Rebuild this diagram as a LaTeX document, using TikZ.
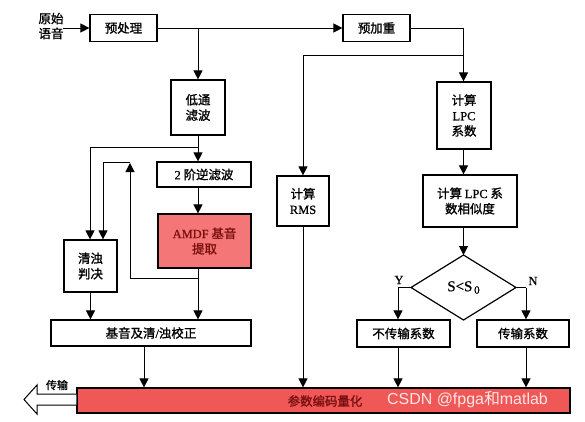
\documentclass[tikz,border=0pt]{standalone}
\usepackage{fontspec}
\setmainfont{Noto Sans CJK SC}[FakeBold=1.2]
\newfontfamily\lat{Liberation Serif}[FakeBold=0.8]
\newfontfamily\wm{Liberation Sans}
\newfontfamily\wmcjk{Noto Sans CJK SC}
\usetikzlibrary{arrows.meta}
\definecolor{pinkfill}{RGB}{245,118,118}
\definecolor{barfill}{RGB}{240,88,88}
\definecolor{darkred}{RGB}{120,15,15}
\tikzset{
  box/.style={draw=black, line width=1.2bp, fill=white, align=center, inner sep=0pt,
              font=\fontsize{12.5}{15.5}\selectfont},
  redbox/.style={box, fill=pinkfill, text=darkred},
  arr/.style={line width=1bp, -{Triangle[length=9bp,width=9bp]}},
  ln/.style={line width=1bp},
  lbl/.style={font=\fontsize{12.5}{15}\selectfont, inner sep=0pt, align=center}
}
\begin{document}
\begin{tikzpicture}[x=1bp,y=-1bp]
\useasboundingbox (0,0) rectangle (585,421);
% nodes
\node[lbl] (src) at (51,26) {原始\\语音};
\node[box, minimum width=67bp, minimum height=27bp] (pre) at (123.5,28) {预处理};
\node[box, minimum width=67bp, minimum height=27bp] (yjz) at (376.5,28) {预加重};
\node[box, minimum width=54bp, minimum height=55bp] (dt) at (198,107.5) {低通\\滤波};
\node[box, minimum width=94bp, minimum height=25bp] (inv) at (204,174.5) {{\lat 2} 阶逆滤波};
\node[redbox, minimum width=93bp, minimum height=54bp] (amdf) at (204.5,241) {{\lat AMDF} 基音\\提取};
\node[box, minimum width=53bp, minimum height=52bp] (qz) at (90.5,266) {清浊\\判决};
\node[box, minimum width=200bp, minimum height=26bp] (jy) at (151,333) {基音及清{\lat /}浊校正};
\node[box, minimum width=52bp, minimum height=50bp] (rms) at (303,201) {计算\\{\lat RMS}};
\node[box, minimum width=54bp, minimum height=67bp] (lpc) at (464,115.5) {计算\\{\lat LPC}\\系数};
\node[box, minimum width=94bp, minimum height=52bp] (sim) at (470,201) {计算 {\lat LPC} 系\\数相似度};
\draw[line width=1.2bp] (463.5,255) coordinate (dN) -- (516,287.5) coordinate (dE)
   -- (463.5,320) coordinate (dS) -- (411,287.5) coordinate (dW) -- cycle;
\node[lbl] (cond) at (463.5,287.5) {\lat\fontsize{15}{17}\selectfont S<S\raisebox{-0.35ex}{\fontsize{11}{12}\selectfont\,0}};
\node[box, minimum width=93bp, minimum height=27bp] (nt) at (403.5,333.5) {不传输系数};
\node[box, minimum width=92bp, minimum height=27bp] (tr) at (523,333.5) {传输系数};
\node[box, fill=barfill, text=darkred, minimum width=493bp, minimum height=25bp] (bar) at (323.5,400.5) {};
\node[lbl, text=darkred] (barlbl) at (325,401) {参数编码量化};
\node[font=\wm\fontsize{16}{18}\selectfont, text=white, opacity=0.85, inner sep=0pt, anchor=west] (wmk) at (387,400) {CSDN @fpga{\wmcjk 和}matlab};
\node[lbl] (ylbl) at (399,280) {\lat Y};
\node[lbl] (nlbl) at (533,281) {\lat N};
\node[lbl, font=\fontsize{11}{12}\selectfont] (out) at (57,385) {传输};
% hollow output arrow
\draw[line width=1bp, fill=white] (bar.west |- 0,394) coordinate (sh1) -- (37,394) -- (37,385) -- (24,399.5) coordinate (tip)
   -- (37,414) -- (37,405) -- (bar.west |- 0,405);
% connectors
\coordinate (srcR) at (63,28);
\draw[arr] (srcR) -- (pre.west);
\draw[arr] (pre.east) -- (yjz.west);
\coordinate (s1) at (198,28);
\draw[arr] (s1) -- (dt.north);
\coordinate (b1) at (198,147);
\draw[arr] (dt.south) -- (dt.south |- inv.north);
\draw[ln] (b1) -- (90,147) coordinate (b1l);
\draw[arr] (b1l) -- (b1l |- qz.north);
\draw[arr] (dt.south |- inv.south) -- (dt.south |- amdf.north);
\coordinate (a1) at (198,278);
\draw[arr] (dt.south |- amdf.south) -- (dt.south |- jy.north);
\draw[ln] (a1) -- (130,278) coordinate (a2);
\draw[arr] (a2) -- (130,163) coordinate (a3);
\draw[ln] (130,162) -- (103,162) coordinate (a4);
\draw[arr] (a4) -- (a4 |- qz.north);
\draw[arr] (qz.south) -- (qz.south |- jy.north);
\draw[arr] (jy.south -| 144,0) -- (bar.north -| 144,0);
% right side
\draw[ln] (yjz.east) -- (463.5,28) coordinate (r1);
\draw[arr] (r1) -- (r1 |- lpc.north);
\coordinate (r2) at (463.5,55);
\draw[ln] (r2) -- (303,55) coordinate (r3);
\draw[arr] (r3) -- (rms.north);
\draw[arr] (rms.south) -- (rms.south |- bar.north);
\draw[arr] (r1 |- lpc.south) -- (r1 |- sim.north);
\draw[arr] (dN |- sim.south) -- (dN);
\draw[ln] (dW) -- (398,287.5) coordinate (yw);
\draw[arr] (yw) -- (yw |- nt.north);
\draw[ln] (dE) -- (526,287.5) coordinate (ne);
\draw[arr] (ne) -- (ne |- tr.north);
\draw[arr] (yw |- nt.south) -- (yw |- bar.north);
\draw[arr] (ne |- tr.south) -- (ne |- bar.north);
\end{tikzpicture}
\end{document}
